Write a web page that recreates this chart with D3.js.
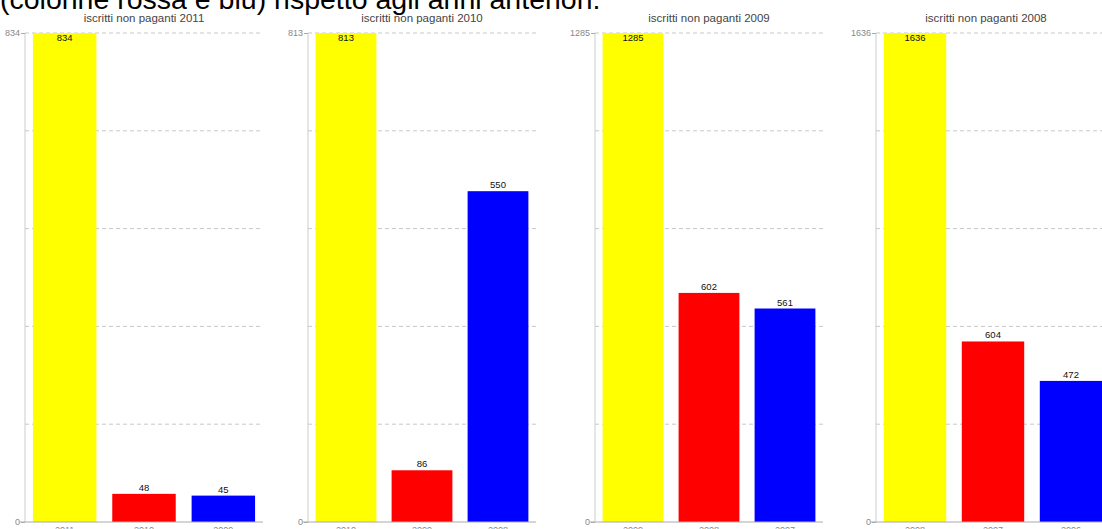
<!DOCTYPE html>
<html>
<head>
<meta charset="utf-8">
<script src="https://cdn.jsdelivr.net/npm/d3@7"></script>
<style>
  body { margin: 0; background: #fff; overflow: hidden; }
  svg { display: block; font-family: "Liberation Sans", Arial, sans-serif; }
</style>
</head>
<body>
<svg id="chart" width="1102" height="529"></svg>
<script>
// data
const titleText = "(colonne rossa e blu) rispetto agli anni anteriori.";
const panelYears = ["2011", "2010", "2009", "2008"];
const panelCategories = [
    ["2011", "2010", "2009"],
    ["2010", "2009", "2008"],
    ["2009", "2008", "2007"],
    ["2008", "2007", "2006"]
];
const panelValues = [
    [834, 48, 45],
    [813, 86, 550],
    [1285, 602, 561],
    [1636, 604, 472]
];
const barColors = ["#ffff00", "#ff0000", "#0000ff"];

// layout of each panel (left axis x, right edge x)
const panelLayout = [
    { left: 25, right: 263 },
    { left: 308, right: 536 },
    { left: 595, right: 823 },
    { left: 876, right: 1110 }
];
const plotTop = 33, plotBottom = 522;

const svg = d3.select("#chart");

svg.append("text")
    .attr("x", 0)
    .attr("y", 9)
    .attr("font-size", 28.5)
    .attr("fill", "#000")
    .text(titleText);

panelYears.forEach((year, i) => {
    const lay = panelLayout[i];
    const vals = panelValues[i];
    const cats = panelCategories[i];
    const g = svg.append("g");

    const x = d3.scaleBand()
        .domain(cats)
        .range([lay.left, lay.right])
        .paddingInner(0.2)
        .paddingOuter(0.1);

    const y = d3.scaleLinear()
        .domain([0, d3.max(vals)])
        .range([plotBottom, plotTop]);

    // dashed grid
    const gridVals = d3.range(1, 6).map(k => y.domain()[1] * k / 5);
    g.selectAll(".grid")
        .data(gridVals)
        .enter().append("line")
        .attr("x1", lay.left)
        .attr("x2", lay.right)
        .attr("y1", d => y(d))
        .attr("y2", d => y(d))
        .attr("stroke", "#c8c8c8")
        .attr("stroke-dasharray", "4,3");

    // subtitle
    g.append("text")
        .attr("x", (lay.left + lay.right) / 2 + (i === 3 ? -7 : 0))
        .attr("y", 22)
        .attr("text-anchor", "middle")
        .attr("font-size", 11.5)
        .attr("fill", "#444")
        .text("iscritti non paganti " + year);

    // bars
    g.selectAll(".bar")
        .data(vals)
        .enter().append("rect")
        .attr("x", (d, j) => x(cats[j]))
        .attr("y", d => y(d))
        .attr("width", x.bandwidth())
        .attr("height", d => plotBottom - y(d))
        .attr("fill", (d, j) => barColors[j]);

    // value labels
    g.selectAll(".val")
        .data(vals)
        .enter().append("text")
        .attr("x", (d, j) => x(cats[j]) + x.bandwidth() / 2)
        .attr("y", d => Math.max(y(d) - 3, plotTop + 8))
        .attr("text-anchor", "middle")
        .attr("font-size", 9.5)
        .attr("fill", "#111")
        .text(d => d);

    // y axis: only max and 0 labelled
    const yAxis = d3.axisLeft(y)
        .tickValues([0, y.domain()[1]])
        .tickFormat(d3.format("d"))
        .tickSize(4)
        .tickPadding(1);
    const ya = g.append("g")
        .attr("transform", `translate(${lay.left},0)`)
        .call(yAxis);
    ya.select(".domain").attr("stroke", "#cccccc").attr("d", `M0,${plotTop}V${plotBottom}`);
    ya.selectAll(".tick line").attr("stroke", "#aaa");
    ya.selectAll(".tick text").attr("fill", "#888").attr("font-size", 9)
        .attr("font-family", "Liberation Sans, Arial, sans-serif");

    // x axis
    const xAxis = d3.axisBottom(x).tickSize(0).tickPadding(5);
    const xa = g.append("g")
        .attr("transform", `translate(0,${plotBottom})`)
        .call(xAxis);
    xa.select(".domain").attr("stroke", "#aaa").attr("d", `M${lay.left - 5},0H${lay.right}`);
    xa.selectAll(".tick text").attr("fill", "#888").attr("font-size", 9)
        .attr("font-family", "Liberation Sans, Arial, sans-serif");
});
</script>
</body>
</html>
